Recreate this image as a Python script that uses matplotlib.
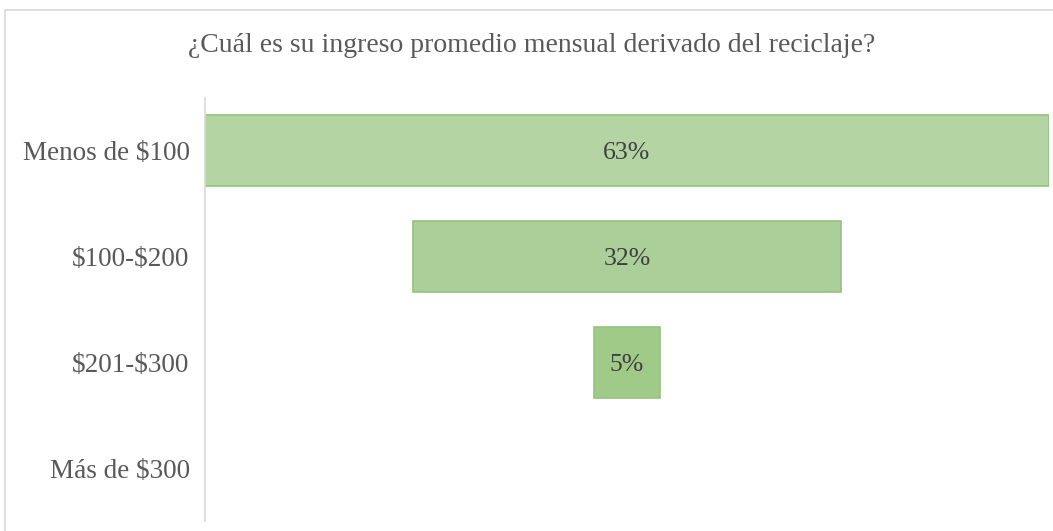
import matplotlib.pyplot as plt
from matplotlib.patches import Rectangle

categories = ['Menos de $100', '$100-$200', '$201-$300', 'Más de $300']
values = [63, 32, 5, 0]
labels = ['63%', '32%', '5%', '']
colors = ['#b4d4a3', '#abcf99', '#a0ca88', '#98c67e']

plt.rcParams['font.family'] = ['Liberation Serif', 'DejaVu Serif']
plt.rcParams['text.parse_math'] = False

fig = plt.figure(figsize=(10.53, 5.31), dpi=100)
# chart frame (cut off at right and bottom like the source)
fig.patches.append(Rectangle((5 / 1053, -0.1), 1.2, 1 - 10 / 531 + 0.1,
                             transform=fig.transFigure, fill=False,
                             edgecolor='#d9d9d9', linewidth=1.2))

ax = fig.add_axes([205 / 1053, 10 / 531, 844 / 1053, 423 / 531])
top = max(values)
y = list(range(len(categories)))
lefts = [(top - v) / 2 for v in values]
widths = [0 if v == 0 else 1.2 for v in values]
ax.barh(y, values, left=lefts, height=0.67, color=colors,
        edgecolor='#93c47d', linewidth=widths)
for yi, v, lab in zip(y, values, labels):
    if lab:
        ax.text(top / 2, yi, lab, ha='center', va='center_baseline',
                fontsize=18.5, color='#404040')

ax.set_xlim(0, top)
ax.set_ylim(len(categories) - 0.5, -0.5)
ax.set_yticks(y)
ax.set_yticklabels(categories, fontsize=19.5, color='#595959')
ax.tick_params(axis='y', length=0, pad=11)
ax.set_xticks([])
for s in ['top', 'right', 'bottom']:
    ax.spines[s].set_visible(False)
ax.spines['left'].set_color('#d9d9d9')
ax.spines['left'].set_linewidth(1.2)

fig.text(532 / 1053, 1 - 45 / 531, '¿Cuál es su ingreso promedio mensual derivado del reciclaje?',
         ha='center', va='center', fontsize=20, color='#595959')

plt.savefig('out.png', dpi=100)
